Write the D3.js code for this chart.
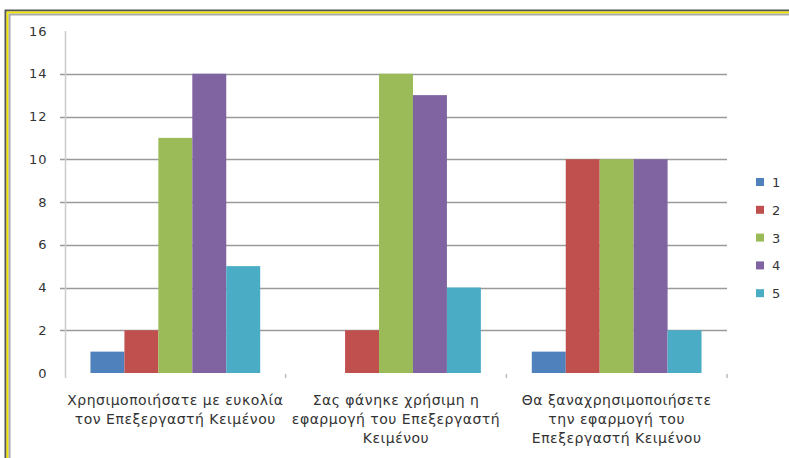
<!DOCTYPE html>
<html><head><meta charset="utf-8">
<script src="https://cdn.jsdelivr.net/npm/d3@7"></script>
<style>
html,body{margin:0;padding:0;background:#fff;}
svg{display:block;}
text{font-family:"DejaVu Sans","Liberation Sans",sans-serif;fill:#333;}
</style></head>
<body>
<svg id="chart" width="789" height="458"></svg>
<script>
const categories = [
  ["Χρησιμοποιήσατε με ευκολία", "τον Επεξεργαστή Κειμένου"],
  ["Σας φάνηκε χρήσιμη η", "εφαρμογή του Επεξεργαστή", "Κειμένου"],
  ["Θα ξαναχρησιμοποιήσετε", "την εφαρμογή του", "Επεξεργαστή Κειμένου"]
];
const seriesNames = ["1", "2", "3", "4", "5"];
const series1 = [1, 0, 1];
const series2 = [2, 2, 10];
const series3 = [11, 14, 10];
const series4 = [14, 13, 10];
const series5 = [5, 4, 2];
const yTicks = [0, 2, 4, 6, 8, 10, 12, 14, 16];
const colors = ["#4F81BD", "#C0504D", "#9BBB59", "#8064A2", "#4BACC6"];

const seriesValues = [series1, series2, series3, series4, series5];
const svg = d3.select("#chart");

// frame
svg.append("path").attr("d", "M5.5,458 V10.5 H789").attr("fill","none").attr("stroke","#555").attr("stroke-width",2);
svg.append("path").attr("d", "M7.5,458 V12.5 H789").attr("fill","none").attr("stroke","#f2e600").attr("stroke-width",2);
svg.append("path").attr("d", "M9.5,458 V14.5 H789").attr("fill","none").attr("stroke","#aaa").attr("stroke-width",2);

const x0 = d3.scaleBand().domain(d3.range(categories.length)).range([65, 727]).paddingInner(0).paddingOuter(0);
const bw = x0.bandwidth() / 6.5;
const x1 = d3.scaleBand().domain(d3.range(seriesNames.length)).range([bw*0.75, x0.bandwidth()-bw*0.75]);
const y = d3.scaleLinear().domain([0, 16]).range([373, 31]);

// gridlines
svg.append("g").selectAll("line").data(yTicks.filter(t => t > 0 && t < 16)).join("line")
  .attr("x1", 60).attr("x2", 727).attr("y1", d => Math.round(y(d))+0.5).attr("y2", d => Math.round(y(d))+0.5)
  .attr("stroke", "#9a9a9a").attr("stroke-width", 1.5);

// y axis
const yAxis = svg.append("g").attr("transform", "translate(65.5,0)").call(d3.axisLeft(y).tickValues(yTicks).tickSize(0).tickPadding(18));
yAxis.select(".domain").remove();
yAxis.selectAll("text").attr("font-size", 13).attr("letter-spacing", 1).style("fill", "#333");
svg.append("line").attr("x1",65.5).attr("x2",65.5).attr("y1",31).attr("y2",378).attr("stroke","#ccc").attr("stroke-width",1.5);

// x ticks
svg.append("g").selectAll("line").data([1,2,3]).join("line")
  .attr("x1", d => 65 + d*x0.bandwidth()).attr("x2", d => 65 + d*x0.bandwidth())
  .attr("y1", 374).attr("y2", 378).attr("stroke", "#bbb").attr("stroke-width", 1.5);

// bars
const groups = svg.append("g").selectAll("g").data(categories).join("g")
  .attr("transform", (d,i) => `translate(${x0(i)},0)`);
groups.selectAll("rect").data((d,i) => seriesValues.map((s,k) => ({k, v: s[i]}))).join("rect")
  .attr("x", d => x1(d.k)).attr("width", x1.bandwidth())
  .attr("y", d => y(d.v)).attr("height", d => y(0) - y(d.v))
  .attr("fill", d => colors[d.k]);

// category labels
const labels = svg.append("g").selectAll("text").data(categories).join("text")
  .attr("x", (d,i) => x0(i) + x0.bandwidth()/2).attr("y", 405)
  .attr("text-anchor", "middle").attr("font-size", 14).attr("letter-spacing", 0.5);
labels.selectAll("tspan").data(d => d).join("tspan")
  .attr("x", function(){ return d3.select(this.parentNode).attr("x"); })
  .attr("dy", (d,i) => i === 0 ? 0 : 19).text(d => d);

// legend
const leg = svg.append("g").selectAll("g").data(seriesNames).join("g")
  .attr("transform", (d,i) => `translate(756,${182 + i*27.8})`);
leg.append("rect").attr("x", 0).attr("y", -4).attr("width", 8).attr("height", 8).attr("fill", (d,i) => colors[i]);
leg.append("text").attr("x", 16).attr("y", 5).attr("font-size", 13).text(d => d);
</script>
</body></html>
